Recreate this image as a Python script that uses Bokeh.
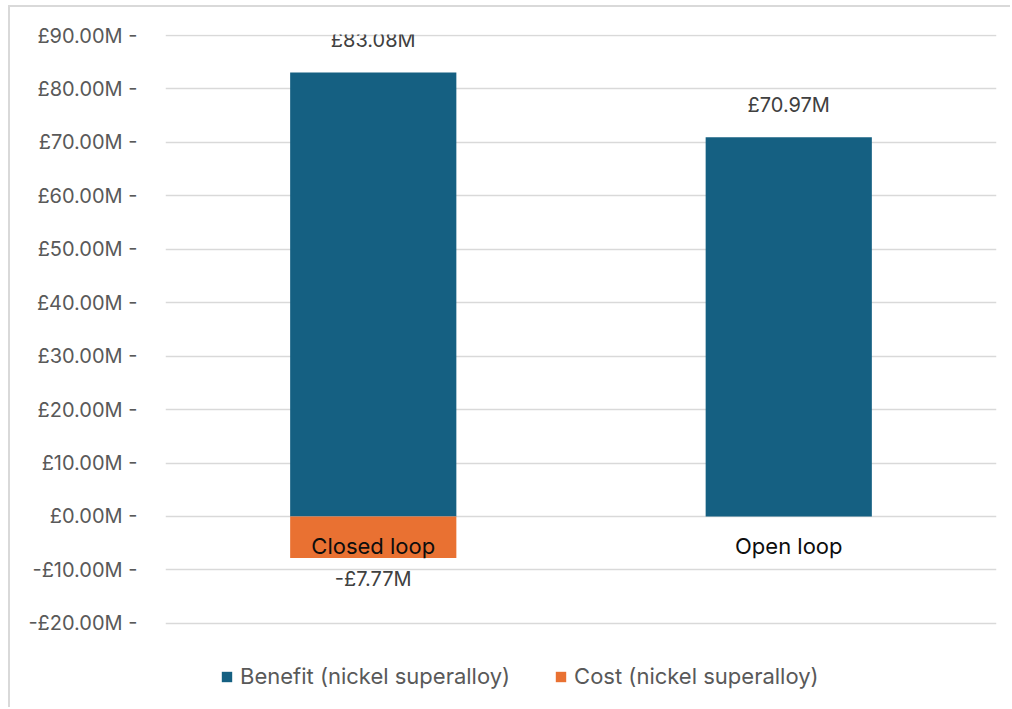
from bokeh.plotting import figure
from bokeh.models import (ColumnDataSource, Range1d, FixedTicker, CustomJSTickFormatter,
                          Legend, LegendItem)
from bokeh.core.properties import value
from bokeh.embed import file_html
from bokeh.resources import INLINE

categories = ["Closed loop", "Open loop"]
benefit = [83.08, 70.97]
cost = [-7.77, 0.0]
y_ticks = [-20, -10, 0, 10, 20, 30, 40, 50, 60, 70, 80, 90]
series_names = ["Benefit (nickel superalloy)", "Cost (nickel superalloy)"]

BLUE = "#156082"
ORANGE = "#E97132"
FONT = "Inter"

def fmt(v):
    return ("-" if v < 0 else "") + "£" + f"{abs(v):.2f}" + "M"

p = figure(width=1002, height=702, x_range=categories, y_range=Range1d(-34.43, 90.19),
           output_backend="svg", toolbar_location=None,
           min_border_left=155, min_border_right=16, min_border_top=27, min_border_bottom=9)
p.styles = {"margin-left": "10px", "margin-top": "7px",
            "box-shadow": "-2px -2px 0px 0px #d9d9d9", "outline": "none"}
p.outline_line_color = None
p.border_fill_color = "white"
p.background_fill_color = "white"
p.border_line_color = None if hasattr(p, "border_line_color") else None

src_b = ColumnDataSource(dict(x=categories, top=benefit, bottom=[0] * len(benefit)))
src_c = ColumnDataSource(dict(x=categories, top=[0] * len(cost), bottom=cost))
rb = p.vbar(x="x", top="top", bottom="bottom", width=0.4, source=src_b,
            fill_color=BLUE, line_color=None)
rc = p.vbar(x="x", top="top", bottom="bottom", width=0.4, source=src_c,
            fill_color=ORANGE, line_color=None)

# data labels
lab_b = ColumnDataSource(dict(x=categories, y=benefit, t=[fmt(v) for v in benefit]))
p.text(x="x", y="y", text="t", source=lab_b, text_align="center", text_baseline="middle",
       y_offset=-32, text_font=value(FONT), text_font_size="20px", text_color="#404040")
cx = [c for c, v in zip(categories, cost) if v != 0]
cy = [v for v in cost if v != 0]
lab_c = ColumnDataSource(dict(x=cx, y=cy, t=[fmt(v) for v in cy]))
p.text(x="x", y="y", text="t", source=lab_c, text_align="center", text_baseline="middle",
       y_offset=21, text_font=value(FONT), text_font_size="20px", text_color="#404040")

# category labels at y = 0
lab_x = ColumnDataSource(dict(x=categories, y=[0] * len(categories), t=categories))
p.text(x="x", y="y", text="t", source=lab_x, text_align="center", text_baseline="middle",
       y_offset=30, text_font=value(FONT), text_font_size="22px", text_color="#0d0d0d")

p.xaxis.visible = False
p.xgrid.visible = False
p.ygrid.grid_line_color = "#d9d9d9"
p.ygrid.grid_line_width = 1.3

ya = p.yaxis[0]
ya.ticker = FixedTicker(ticks=y_ticks)
ya.formatter = CustomJSTickFormatter(code="""
const s = tick < 0 ? "-" : "";
return s + "\u00a3" + Math.abs(tick).toFixed(2) + "M -";
""")
ya.axis_line_color = None
ya.major_tick_line_color = None
ya.minor_tick_line_color = None
ya.major_label_standoff = 22
ya.major_label_text_font = FONT
ya.major_label_text_font_size = "20px"
ya.major_label_text_color = "#595959"

legend = Legend(items=[LegendItem(label=series_names[0], renderers=[rb]),
                       LegendItem(label=series_names[1], renderers=[rc])],
                orientation="horizontal", location=(55, 11))
legend.border_line_color = None
legend.background_fill_alpha = 0
legend.glyph_width = 13
legend.glyph_height = 13
legend.label_standoff = 7
legend.spacing = 44
legend.padding = 0
legend.margin = 0
legend.label_text_font = FONT
legend.label_text_font_size = "22px"
legend.label_text_color = "#595959"
p.add_layout(legend, "center")

open("out.html", "w").write(file_html(p, INLINE))
